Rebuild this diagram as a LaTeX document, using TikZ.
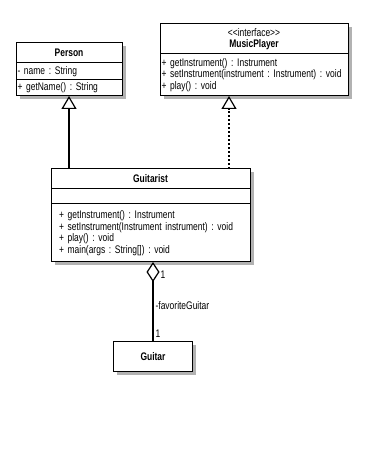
\documentclass[tikz,border=0pt]{standalone}
\usepackage{fontspec}
\newfontfamily\umlfont{Liberation Sans}[FakeStretch=0.77]
\usepackage{tikz}
\usetikzlibrary{arrows.meta, calc, positioning, fit, backgrounds, shadows}
\frenchspacing

\tikzset{
  umlbox/.style={draw, line width=1pt, fill=white, outer sep=0pt, inner ysep=2pt,
    font=\umlfont\fontsize{11}{11.5}\selectfont},
  classname/.style={umlbox, font=\umlfont\bfseries\fontsize{11}{11.5}\selectfont, align=center},
  members/.style={umlbox, align=left, inner xsep=1.5pt},
  classbg/.style={fill=white, inner sep=0pt,
    drop shadow={shadow xshift=3.5pt, shadow yshift=-3.5pt, fill=black!30, opacity=1}},
  inherit/.style={line width=1.2pt, -{Triangle[open, length=13pt, width=15pt]}},
  realize/.style={inherit, dash pattern=on 2pt off 2pt},
  aggregate/.style={line width=1.2pt, {Diamond[open, length=20pt, width=13pt]}-},
  multiplicity/.style={font=\umlfont\fontsize{11}{11.5}\selectfont, right, inner sep=2pt}
}

\begin{document}
\begin{tikzpicture}[x=1pt, y=1pt]
\useasboundingbox (0,0) rectangle (385,463);

% Person
\node[classname, anchor=north, minimum width=106pt, minimum height=20pt] (ptitle) at (69,420) {Person};
\node[members, below=0pt of ptitle, text width=103pt, minimum height=17pt] (pattr) {- name : String};
\node[members, below=0pt of pattr, text width=103pt, minimum height=16pt] (pops) {+ getName() : String};

% MusicPlayer interface
\node[classname, anchor=north, minimum width=188pt, minimum height=30pt] (mtitle) at (254,439)
  {{\mdseries <\kern0pt<interface>\kern0pt>}\\MusicPlayer};
\node[members, below=0pt of mtitle, text width=185pt, minimum height=42pt] (mops)
  {+ getInstrument() : Instrument\\
   + setInstrument(instrument : Instrument) : void\\
   + play() : void};

% Guitarist
\node[classname, anchor=north, minimum width=199pt, minimum height=20pt] (gtitle) at (150.5,294) {Guitarist};
\node[members, below=0pt of gtitle, text width=196pt, minimum height=15pt] (gattr) {};
\node[members, below=0pt of gattr, inner xsep=8pt, text width=183pt, minimum height=58pt] (gops)
  {+ getInstrument() : Instrument\\
   + setInstrument(Instrument instrument) : void\\
   + play() : void\\
   + main(args : String[]) : void};

% Guitar
\node[classname, anchor=north, minimum width=79pt, minimum height=30pt] (guitar) at (153,121) {Guitar};

% shadows
\begin{scope}[on background layer]
  \node[classbg, fit=(ptitle)(pops)] (pbg) {};
  \node[classbg, fit=(mtitle)(mops)] (mbg) {};
  \node[classbg, fit=(gtitle)(gops)] (gbg) {};
  \node[classbg, fit=(guitar)] (gtbg) {};
\end{scope}

% connectors
\coordinate (mpin) at ($(mops.south west)+(69,0)$);
\draw[inherit] (pops.south |- gtitle.north) -- (pops.south);
\draw[realize] (mpin |- gtitle.north) -- (mpin);
\draw[aggregate] (guitar.north |- gops.south) -- (guitar.north)
  node[multiplicity, pos=0.16, xshift=5pt] {1}
  node[multiplicity, pos=0.55] {-favoriteGuitar}
  node[multiplicity, pos=0.9] {1};
\end{tikzpicture}
\end{document}
